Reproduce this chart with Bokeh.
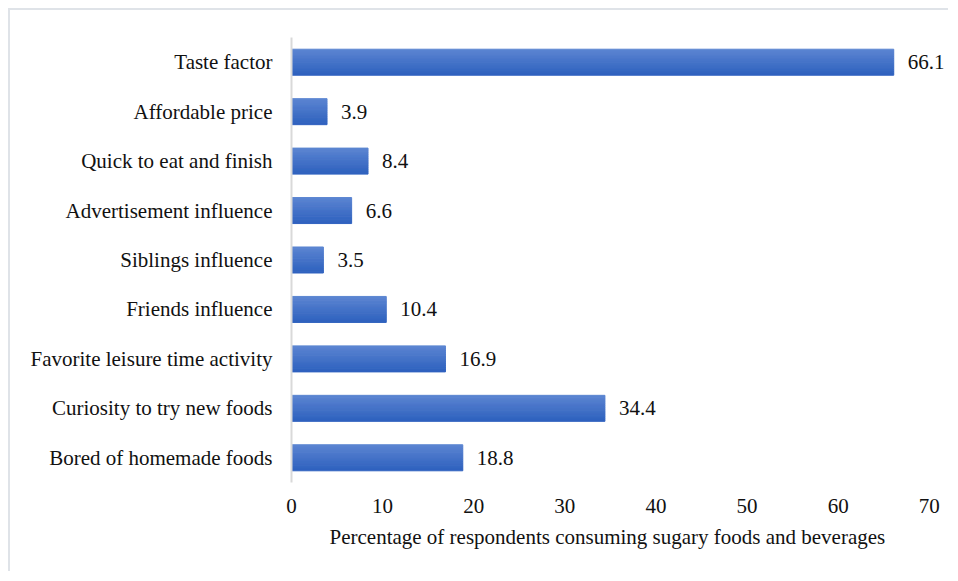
from bokeh.plotting import figure
from bokeh.models import ColumnDataSource, FactorRange, FixedTicker, Range1d, LabelSet, Title
from bokeh.transform import dodge
from bokeh.embed import file_html
from bokeh.resources import INLINE

# Data (top to bottom as shown)
categories = [
    "Taste factor",
    "Affordable price",
    "Quick to eat and finish",
    "Advertisement influence",
    "Siblings influence",
    "Friends influence",
    "Favorite leisure time activity",
    "Curiosity to try new foods",
    "Bored of homemade foods",
]
values = [66.1, 3.9, 8.4, 6.6, 3.5, 10.4, 16.9, 34.4, 18.8]
x_ticks = [0, 10, 20, 30, 40, 50, 60, 70]
x_title = "Percentage of respondents consuming sugary foods and beverages"

FONT = "Liberation Serif"
TXT = "#111111"
FS = "21px"

src = ColumnDataSource(dict(cat=categories, val=values,
                            lbl=[f"{v:.1f}" for v in values]))

p = figure(
    width=940, height=563,
    y_range=FactorRange(factors=list(reversed(categories))),
    x_range=Range1d(0, 72),
    output_backend="svg", toolbar_location=None,
    min_border_left=281, min_border_right=3,
    min_border_top=27, min_border_bottom=91,
)
p.styles = {"border-top": "2px solid #dfe3e8", "border-left": "2px solid #dfe3e8",
            "margin-left": "8px", "margin-top": "8px"}

# gradient bars drawn as thin strips
bar_h = 0.526
N = 14
top_rgb = (0x5d, 0x86, 0xd2)
bot_rgb = (0x2e, 0x61, 0xbe)
strip = bar_h / N
for i in range(N):
    t = (i + 0.5) / N
    rgb = tuple(int(round(a + (b - a) * t)) for a, b in zip(top_rgb, bot_rgb))
    col = "#%02x%02x%02x" % rgb
    off = bar_h / 2 - (i + 0.5) * strip
    p.hbar(y=dodge("cat", off, range=p.y_range), left=0, right="val",
           height=strip, source=src, fill_color=col, line_color=col, line_width=1)

labels = LabelSet(x="val", y="cat", text="lbl", source=src, x_offset=14,
                  text_baseline="middle", text_align="left",
                  text_font=FONT, text_font_size=FS, text_color=TXT)
p.add_layout(labels)

p.xgrid.visible = False
p.ygrid.visible = False
p.outline_line_color = None

xa = p.xaxis[0]
xa.ticker = FixedTicker(ticks=x_ticks)
xa.axis_line_color = None
xa.major_tick_line_color = None
xa.minor_tick_line_color = None
xa.major_label_text_font = FONT
xa.major_label_text_font_size = FS
xa.major_label_text_color = TXT
xa.major_label_standoff = 10

t = Title(text=x_title, align="left", offset=38, standoff=14,
          text_font=FONT, text_font_size=FS, text_font_style="normal",
          text_color=TXT)
p.add_layout(t, "below")

ya = p.yaxis[0]
ya.axis_line_color = "#d9d9d9"
ya.axis_line_width = 2
ya.major_tick_line_color = None
ya.minor_tick_line_color = None
ya.major_label_text_font = FONT
ya.major_label_text_font_size = FS
ya.major_label_text_color = TXT
ya.major_label_standoff = 13

open("out.html", "w").write(file_html(p, INLINE))
